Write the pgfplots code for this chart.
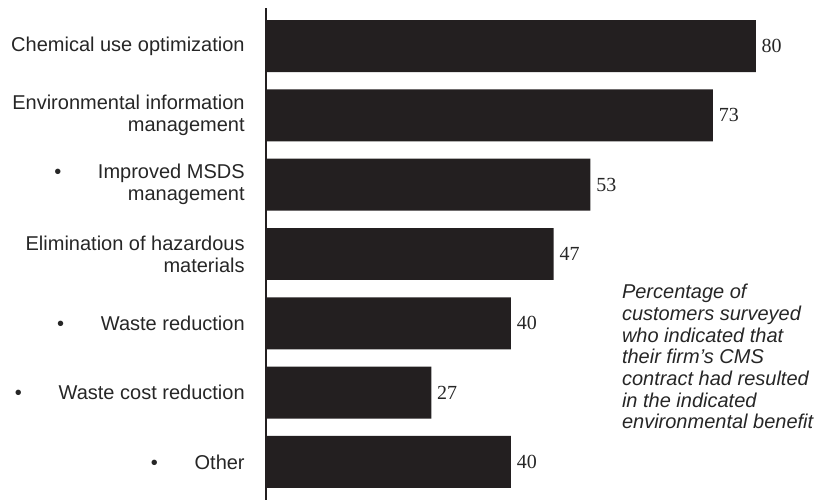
\documentclass[border=0pt]{standalone}
\usepackage{fontspec}
\setmainfont{Liberation Sans}
\newfontfamily\numfont{Liberation Serif}
\usepackage{pgfplots}
\pgfplotsset{compat=1.18}
\definecolor{barc}{HTML}{231F20}
\definecolor{txt}{HTML}{262626}
\begin{document}
\begin{tikzpicture}[x=1pt,y=1pt]
\begin{axis}[
  at={(0,0)}, anchor=south west,
  width=330.6pt, height=295.2pt, scale only axis,
  xbar, bar width=0.75,
  xmin=0, xmax=90, ymin=0.45, ymax=7.55, y dir=reverse,
  axis x line=none, axis y line*=left,
  y axis line style={line width=1.2pt, color=barc},
  xtick=\empty,
  ytick={1,2,3,4,5,6,7},
  yticklabels={
    Chemical use optimization,
    {Environmental information\\management},
    {\textbullet\hspace{22pt}Improved MSDS\\management},
    {Elimination of hazardous\\materials},
    {\textbullet\hspace{22pt}Waste reduction},
    {\textbullet\hspace{22pt}Waste cost reduction},
    {\textbullet\hspace{22pt}Other}},
  major tick length=0pt,
  yticklabel style={align=right, inner sep=0pt, xshift=-12.6pt, text=txt,
    font=\fontsize{12pt}{13.2pt}\selectfont},
  nodes near coords,
  nodes near coords style={font=\fontsize{12pt}{13pt}\numfont, anchor=west, text=txt,
    /pgf/number format/assume math mode=true},
  clip=false,
]
\addplot[fill=barc, draw=none] coordinates {
  (80,1) (73,2) (53,3) (47,4) (40,5) (27,6) (40,7)};
\node[anchor=west, align=left, inner sep=0pt, text=txt,
  font=\fontsize{12pt}{13pt}\selectfont\itshape] at (axis cs:58.1,5.48)
  {Percentage of\\customers surveyed\\who indicated that\\their firm’s CMS\\contract had resulted\\in the indicated\\environmental benefit};
\end{axis}
\pgfresetboundingbox
\path[use as bounding box] (-159.6,0) rectangle (332.4,300);
\end{tikzpicture}
\end{document}
